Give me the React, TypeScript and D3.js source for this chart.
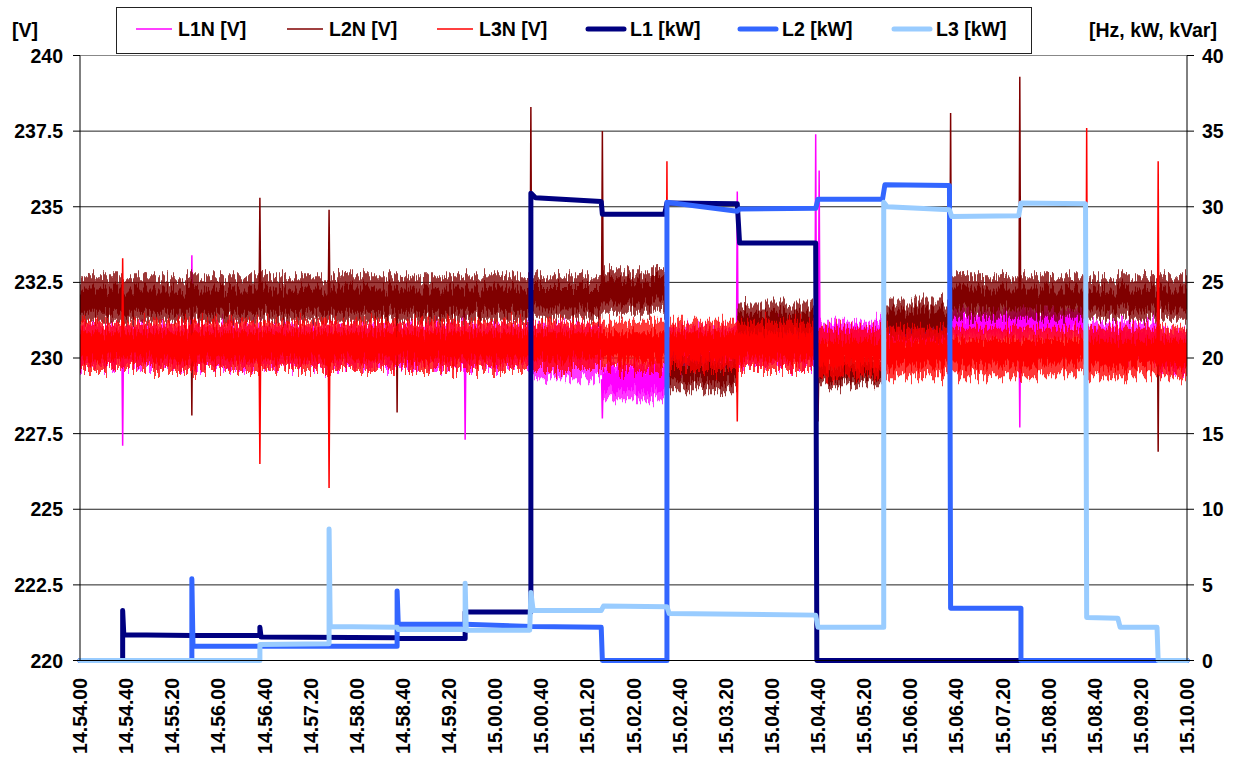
import React from 'react';
import * as d3 from 'd3';

// time axis labels (every 40 s)
const X_TICKS = [
  '14.54.00', '14.54.40', '14.55.20', '14.56.00', '14.56.40', '14.57.20', '14.58.00',
  '14.58.40', '14.59.20', '15.00.00', '15.00.40', '15.01.20', '15.02.00', '15.02.40',
  '15.03.20', '15.04.00', '15.04.40', '15.05.20', '15.06.00', '15.06.40', '15.07.20',
  '15.08.00', '15.08.40', '15.09.20', '15.10.00',
];
const V_TICKS = [220, 222.5, 225, 227.5, 230, 232.5, 235, 237.5, 240];
const KW_TICKS = [0, 5, 10, 15, 20, 25, 30, 35, 40];

// voltage bands: [seconds from 14.54.00, outer low, core low, core high, outer high]
const L1N_BAND = [
  [0, 229.7, 230.0, 230.8, 231.1],
  [391, 229.3, 229.9, 230.7, 231.1],
  [453, 228.6, 228.9, 229.7, 229.9],
  [509, 229.6, 229.9, 230.7, 231.0],
  [570, 229.7, 230.0, 230.9, 231.3],
  [639, 230.2, 230.4, 231.0, 231.2],
  [697, 230.3, 230.4, 230.9, 231.2],
  [755, 230.6, 230.8, 231.4, 231.6],
  [815, 230.6, 230.9, 231.5, 231.7],
  [873, 229.9, 230.1, 230.9, 231.2],
  [935, 229.6, 229.8, 230.6, 230.9],
];
const L2N_BAND = [
  [0, 231.2, 231.5, 232.3, 232.7],
  [391, 231.3, 231.6, 232.35, 232.7],
  [453, 231.5, 231.8, 232.6, 232.9],
  [509, 228.9, 229.2, 229.8, 230.1],
  [570, 230.6, 230.8, 231.5, 231.8],
  [639, 229.1, 229.3, 229.8, 230.0],
  [697, 230.6, 230.9, 231.6, 231.9],
  [755, 231.3, 231.6, 232.3, 232.7],
];
const L3N_BAND = [
  [0, 229.6, 229.95, 230.85, 231.2],
  [639, 229.4, 229.75, 230.6, 231.0],
];

// voltage spikes: [seconds, volts]
const L1N_SPIKES = [[37, 227.1], [97, 233.4], [334, 227.3], [453, 228.0], [570, 235.5], [638, 237.4], [641, 236.2], [815, 227.7]];
const L2N_SPIKES = [[97, 228.1], [156, 235.3], [216, 234.9], [275, 228.2], [391, 238.3], [453, 237.5], [640, 227.9], [755, 238.1], [815, 239.3], [935, 226.9]];
const L3N_SPIKES = [[37, 233.3], [156, 226.5], [216, 225.7], [509, 236.5], [570, 227.9], [873, 237.6], [935, 236.5]];

// active power: [seconds, kW]
const L1_KW = [
  [0, 0], [37, 0], [37, 3.3], [38, 1.7], [97, 1.65], [156, 1.65], [156, 2.2], [157, 1.55],
  [275, 1.5], [276, 1.45], [334, 1.45], [334, 3.2], [391, 3.2], [391, 30.9], [395, 30.6],
  [452, 30.35], [453, 29.5], [507, 29.5], [509, 30.25], [570, 30.2], [572, 27.6], [638, 27.6],
  [639, 0], [960, 0],
];
const L2_KW = [
  [0, 0], [97, 0], [97, 5.4], [98, 0.95], [275, 0.95], [275, 4.6], [276, 2.4], [334, 2.4],
  [391, 2.25], [452, 2.2], [453, 0], [509, 0], [509, 30.3], [570, 29.7], [572, 29.85],
  [638, 29.9], [640, 30.5], [696, 30.5], [698, 31.45], [754, 31.4], [755, 3.45], [816, 3.45],
  [816, 0], [960, 0],
];
const L3_KW = [
  [0, 0], [156, 0], [156, 1.05], [216, 1.1], [216, 8.7], [217, 2.25], [275, 2.2], [276, 2.05],
  [334, 2.05], [334, 5.1], [335, 2.0], [390, 2.0], [391, 4.5], [393, 3.3], [452, 3.3],
  [454, 3.6], [509, 3.55], [511, 3.1], [638, 3.0], [640, 2.2], [697, 2.2], [697, 30.3],
  [700, 30.0], [754, 29.8], [756, 29.35], [814, 29.4], [816, 30.25], [872, 30.2], [873, 2.85],
  [900, 2.8], [902, 2.2], [934, 2.2], [935, 0], [960, 0],
];

const VOLT_SERIES = [
  { name: 'L1N [V]', color: '#ff00ff', band: L1N_BAND, spikes: L1N_SPIKES, seed: 3 },
  { name: 'L2N [V]', color: '#800000', band: L2N_BAND, spikes: L2N_SPIKES, seed: 11 },
  { name: 'L3N [V]', color: '#ff0000', band: L3N_BAND, spikes: L3N_SPIKES, seed: 27 },
];
const KW_SERIES = [
  { name: 'L1 [kW]', color: '#000080', data: L1_KW },
  { name: 'L2 [kW]', color: '#3366ff', data: L2_KW },
  { name: 'L3 [kW]', color: '#99ccff', data: L3_KW },
];

const FONT = '"Liberation Sans", Arial, sans-serif';
const FS = 19.5;

const App = () => {
  const left = 80, right = 1187, top = 55.5, bottom = 660.5;

  const parseT = d3.timeParse('%H.%M.%S');
  const tickDates = X_TICKS.map(s => parseT(s) as Date);
  const t0 = tickDates[0].getTime();
  const toDate = (s: number) => new Date(t0 + s * 1000);

  const x = d3.scaleTime().domain([tickDates[0], tickDates[tickDates.length - 1]]).range([left, right]);
  const yV = d3.scaleLinear().domain([220, 240]).range([bottom, top]);
  const yK = d3.scaleLinear().domain([0, 40]).range([bottom, top]);
  const endSec = (tickDates[tickDates.length - 1].getTime() - t0) / 1000;

  const outerArea = d3.area<number[]>()
    .x(d => x(toDate(d[0])))
    .y0(d => yV(d[1]))
    .y1(d => yV(d[4]))
    .curve(d3.curveStepAfter);
  const coreArea = d3.area<number[]>()
    .x(d => x(toDate(d[0])))
    .y0(d => yV(d[2]))
    .y1(d => yV(d[3]))
    .curve(d3.curveStepAfter);
  const vLine = d3.line<number[]>().x(d => x(toDate(d[0]))).y(d => yV(d[1]));
  const kLine = d3.line<number[]>().x(d => x(toDate(d[0]))).y(d => yK(d[1]));

  const spikePath = (band: number[][], s: number[]) => {
    const seg = band.filter(b => b[0] <= s[0]).pop() || band[0];
    const base = (seg[2] + seg[3]) / 2;
    return vLine([[s[0] - 0.7, base], [s[0], s[1]], [s[0] + 0.7, base]]);
  };

  const legendItems = [...VOLT_SERIES.map(s => ({ ...s, w: 1.5 })), ...KW_SERIES.map(s => ({ ...s, w: 5 }))];
  const legendX = [136, 287, 437, 588, 740, 894];

  return (
    <svg width={1237} height={760} style={{ position: 'absolute', left: 0, top: 0, background: '#fff' }}
      fontFamily={FONT} fontWeight="bold" fontSize={FS}>
      <defs>
        <clipPath id="plot">
          <rect x={left} y={top} width={right - left} height={bottom - top} />
        </clipPath>
        {/* jagged edges for the sampled (noisy) voltage traces */}
        {VOLT_SERIES.map(s => (
          <filter key={s.seed} id={'noise' + s.seed} filterUnits="userSpaceOnUse" x={0} y={0} width={1237} height={760}>
            <feTurbulence type="fractalNoise" baseFrequency="0.55 0.012" numOctaves={2} seed={s.seed} result="n" />
            <feColorMatrix in="n" type="matrix"
              values="0 0 0 0 0.5  0 1 0 0 0  0 0 0 0 0  0 0 0 0 1" result="m" />
            <feDisplacementMap in="SourceGraphic" in2="m" scale={30} xChannelSelector="R" yChannelSelector="G" />
          </filter>
        ))}
      </defs>

      {/* grid */}
      {V_TICKS.map((v, i) => (
        <line key={'g' + v} x1={left} x2={right} y1={yV(v)} y2={yV(v)}
          stroke={i === V_TICKS.length - 1 ? '#888' : '#222'} strokeWidth={1} />
      ))}

      {/* voltage bands */}
      <g clipPath="url(#plot)">
        {VOLT_SERIES.map(s => {
          const band = [...s.band, [endSec, ...s.band[s.band.length - 1].slice(1)]];
          return (
            <g key={s.name}>
              <g filter={`url(#noise${s.seed})`}>
                <path d={outerArea(band) || ''} fill={s.color} opacity={0.78} />
                <path d={coreArea(band) || ''} fill={s.color} />
              </g>
              {s.spikes.map((sp, i) => (
                <path key={i} d={spikePath(s.band, sp) || ''} fill="none" stroke={s.color} strokeWidth={1.5} />
              ))}
            </g>
          );
        })}
      </g>

      {/* power lines */}
      {KW_SERIES.map(s => (
        <path key={s.name} d={kLine(s.data) || ''} fill="none" stroke={s.color} strokeWidth={5}
          strokeLinejoin="round" strokeLinecap="round" />
      ))}

      {/* axes */}
      <line x1={left} x2={left} y1={top} y2={bottom} stroke="#000" />
      <line x1={right} x2={right} y1={top} y2={bottom} stroke="#000" />
      <line x1={left} x2={right} y1={bottom} y2={bottom} stroke="#000" />
      {V_TICKS.map(v => (
        <g key={'lv' + v}>
          <line x1={left - 7} x2={left} y1={yV(v)} y2={yV(v)} stroke="#000" />
          <text x={63} y={yV(v)} dy="0.36em" textAnchor="end">{String(v)}</text>
        </g>
      ))}
      {KW_TICKS.map(v => (
        <g key={'rk' + v}>
          <line x1={right} x2={right + 7} y1={yK(v)} y2={yK(v)} stroke="#000" />
          <text x={1202} y={yK(v)} dy="0.36em" textAnchor="start">{String(v)}</text>
        </g>
      ))}
      {X_TICKS.map((lab, i) => (
        <text key={lab} transform={`translate(${x(tickDates[i])},678) rotate(-90)`} dy="0.36em"
          textAnchor="end">{lab}</text>
      ))}

      {/* axis titles */}
      <text x={12} y={37}>[V]</text>
      <text x={1089} y={37}>[Hz, kW, kVar]</text>

      {/* legend */}
      <rect x={116.5} y={7.5} width={915} height={46} fill="#fff" stroke="#222" />
      {legendItems.map((it, i) => (
        <g key={it.name}>
          <line x1={legendX[i]} x2={legendX[i] + 36} y1={29} y2={29} stroke={it.color} strokeWidth={it.w}
            strokeLinecap={it.w > 2 ? 'round' : 'butt'} />
          <text x={legendX[i] + 42} y={29} dy="0.36em">{it.name}</text>
        </g>
      ))}
    </svg>
  );
};

export default App;
